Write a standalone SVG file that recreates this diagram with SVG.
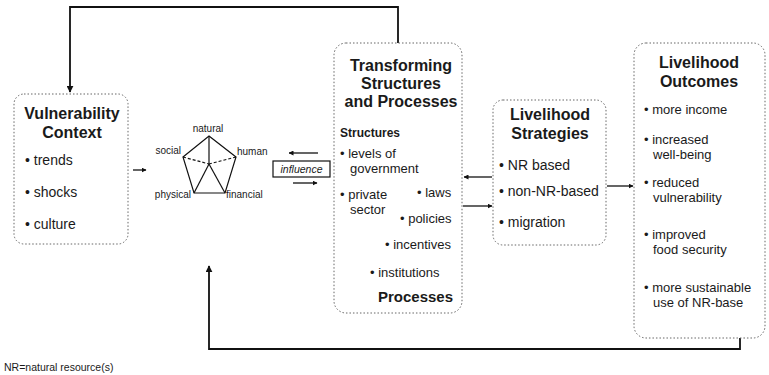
<svg xmlns="http://www.w3.org/2000/svg" width="769" height="375" viewBox="0 0 769 375">
<defs>
<marker id="ah" viewBox="0 0 10 10" refX="9" refY="5" markerWidth="5" markerHeight="5" orient="auto-start-reverse" markerUnits="userSpaceOnUse">
<path d="M0,0 L10,5 L0,10 z" fill="#111"/>
</marker>
<marker id="ahs" viewBox="0 0 10 10" refX="9" refY="5" markerWidth="7" markerHeight="7" orient="auto-start-reverse" markerUnits="userSpaceOnUse">
<path d="M0,0 L10,5 L0,10 z" fill="#111"/>
</marker>
<style>
text{font-family:"Liberation Sans",Arial,sans-serif;fill:#1a1a1a}
.box{fill:#fff;stroke:#666;stroke-width:1;stroke-dasharray:1.5 2}
.title{font-size:16px;font-weight:bold;text-anchor:middle}
.b14{font-size:14px}
.b13{font-size:13px}
.sub{font-size:12px;font-weight:bold}
.proc{font-size:15px;font-weight:bold;text-anchor:end}
.lab{font-size:10px}
.conn{fill:none;stroke:#111;stroke-width:1.8}
.thin{fill:none;stroke:#111;stroke-width:1.3}
.pent{fill:none;stroke:#111;stroke-width:1.2}
.dash{stroke-dasharray:3 2}
</style>
</defs>

<g id="connectors">
<path class="conn" d="M398,43 V7 H70 V92" marker-end="url(#ahs)"/>
<path class="conn" d="M740,338 V349 H209 V266" marker-end="url(#ahs)"/>
<path class="thin" d="M133,170 H146" marker-end="url(#ah)"/>
<path class="thin" d="M318,153 H289" marker-end="url(#ah)"/>
<path class="thin" d="M293,183 H317" marker-end="url(#ah)"/>
<path class="thin" d="M492,177 H464" marker-end="url(#ah)"/>
<path class="thin" d="M463,206 H492" marker-end="url(#ah)"/>
<path class="thin" d="M607,186 H633" marker-end="url(#ah)"/>
</g>

<g id="vulnerability">
<rect class="box" x="14" y="94" width="114" height="150" rx="10"/>
<text class="title" x="72" y="119">Vulnerability</text>
<text class="title" x="72" y="138">Context</text>
<text class="b14" x="25" y="165">• trends</text>
<text class="b14" x="25" y="197">• shocks</text>
<text class="b14" x="25" y="229">• culture</text>
</g>

<g id="capital-assets">
<polygon class="pent" points="209,136 236,157 225,193 194,193 183,157"/>
<line class="pent" x1="209" y1="136" x2="209" y2="164"/>
<line class="pent dash" x1="183" y1="157" x2="209" y2="164"/>
<line class="pent dash" x1="236" y1="157" x2="209" y2="164"/>
<line class="pent" x1="209" y1="164" x2="194" y2="193"/>
<line class="pent" x1="209" y1="164" x2="225" y2="193"/>
<text class="lab" x="208" y="132" text-anchor="middle">natural</text>
<text class="lab" x="181" y="154" text-anchor="end">social</text>
<text class="lab" x="237" y="155">human</text>
<text class="lab" x="191" y="198" text-anchor="end">physical</text>
<text class="lab" x="226" y="198">financial</text>
</g>

<g id="influence">
<rect x="273" y="161" width="57" height="16" fill="#fff" stroke="#111" stroke-width="1.2"/>
<text x="301.5" y="173" font-size="10.5" font-style="italic" text-anchor="middle">influence</text>
</g>

<g id="transforming">
<rect class="box" x="334" y="43" width="128" height="270" rx="12"/>
<text class="title" x="401" y="71">Transforming</text>
<text class="title" x="401" y="89">Structures</text>
<text class="title" x="401" y="107">and Processes</text>
<text class="sub" x="340" y="137">Structures</text>
<text class="b13" x="340" y="158">• levels of</text>
<text class="b13" x="350" y="173">government</text>
<text class="b13" x="340" y="199">• private</text>
<text class="b13" x="350" y="214">sector</text>
<text class="b13" x="417" y="197">• laws</text>
<text class="b13" x="400" y="223">• policies</text>
<text class="b13" x="385" y="249">• incentives</text>
<text class="b13" x="370" y="277">• institutions</text>
<text class="proc" x="453" y="302">Processes</text>
</g>

<g id="strategies">
<rect class="box" x="493" y="100" width="113" height="145" rx="10"/>
<text class="title" x="550" y="120">Livelihood</text>
<text class="title" x="550" y="139">Strategies</text>
<text class="b14" x="499" y="170">• NR based</text>
<text class="b14" x="499" y="196">• non-NR-based</text>
<text class="b14" x="499" y="227">• migration</text>
</g>

<g id="outcomes">
<rect class="box" x="634" y="43" width="131" height="295" rx="12"/>
<text class="title" x="699" y="68">Livelihood</text>
<text class="title" x="699" y="87">Outcomes</text>
<text class="b13" x="644" y="114">• more income</text>
<text class="b13" x="644" y="144">• increased</text>
<text class="b13" x="653" y="159">well-being</text>
<text class="b13" x="644" y="187">• reduced</text>
<text class="b13" x="653" y="202">vulnerability</text>
<text class="b13" x="644" y="239">• improved</text>
<text class="b13" x="653" y="254">food security</text>
<text class="b13" x="644" y="292">• more sustainable</text>
<text class="b13" x="653" y="307">use of NR-base</text>
</g>

<text x="4" y="371" font-size="10.5">NR=natural resource(s)</text>
</svg>
